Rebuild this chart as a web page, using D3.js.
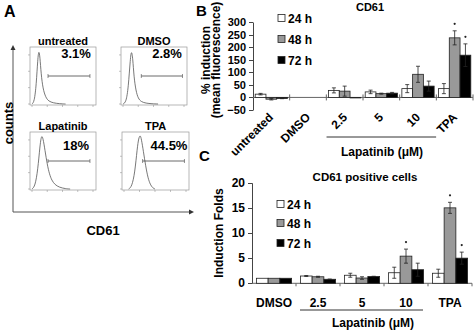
<!DOCTYPE html>
<html>
<head>
<meta charset="utf-8">
<script src="https://cdn.jsdelivr.net/npm/d3@7"></script>
<style>
  body { margin: 0; background: #fff; }
  svg { display: block; font-family: "Liberation Sans", Arial, sans-serif; font-weight: bold; }
  .axis path, .axis line { stroke: #444; }
</style>
</head>
<body>
<div id="chart"></div>
<script>
const width = 474;
const height = 330;

// panel A : flow cytometry histograms (log10 fluorescence, relative count)
const histNames = ['untreated', 'DMSO', 'Lapatinib', 'TPA'];
const histPercents = ['3.1%', '2.8%', '18%', '44.5%'];
const gateStart = [1.05, 1.2, 1.05, 1.2];
const gateEnd = [3.8, 3.9, 3.8, 3.9];
const histUntreated = [[0,0],[0.15,0.04],[0.28,0.35],[0.38,0.85],[0.45,1],[0.52,0.88],[0.6,0.55],[0.72,0.28],[0.9,0.12],[1.1,0.05],[1.4,0.02],[1.8,0.005],[2.2,0]];
const histDMSO = [[0,0],[0.2,0.03],[0.35,0.3],[0.48,0.85],[0.56,1],[0.64,0.85],[0.72,0.5],[0.85,0.24],[1.0,0.1],[1.2,0.04],[1.5,0.015],[1.9,0.004],[2.3,0]];
const histLapatinib = [[0,0],[0.2,0.05],[0.38,0.35],[0.52,0.8],[0.62,1],[0.72,0.95],[0.85,0.72],[1.0,0.45],[1.15,0.27],[1.3,0.16],[1.5,0.08],[1.8,0.03],[2.2,0.005],[2.5,0]];
const histTPA = [[0.3,0],[0.5,0.04],[0.7,0.3],[0.85,0.75],[0.95,0.95],[1.05,1],[1.12,0.93],[1.25,0.7],[1.4,0.42],[1.55,0.2],[1.7,0.08],[1.85,0.02],[2.0,0]];
const histCurves = [histUntreated, histDMSO, histLapatinib, histTPA];

// shared legend
const seriesNames = ['24 h', '48 h', '72 h'];
const seriesFills = ['#fff', '#999', '#000'];

// panel B : % induction (mean fluorescence)
const catsB = ['untreated', 'DMSO', '2.5', '5', '10', 'TPA'];
const b24 = [13, 0, 28, 22, 35, 35];
const b48 = [-7, 0, 25, 15, 92, 237];
const b72 = [-4, 0, -2, 17, 45, 168];
const b24err = [3, 0, 10, 7, 16, 20];
const b48err = [3, 0, 20, 2, 32, 28];
const b72err = [1, 0, 0, 3, 20, 45];
const starsB = [['TPA', 1], ['TPA', 2]];
const ticksB = [-50, 0, 50, 100, 150, 200, 250, 300];

// panel C : CD61 positive cells, induction folds
const catsC = ['DMSO', '2.5', '5', '10', 'TPA'];
const c24 = [1, 1.45, 1.6, 2.1, 2.0];
const c48 = [1, 1.3, 1.05, 5.4, 15.0];
const c72 = [1, 0.8, 1.35, 2.7, 5.0];
const c24err = [0, 0.1, 0.4, 1.1, 0.8];
const c48err = [0, 0.1, 0.25, 1.4, 1.1];
const c72err = [0, 0.05, 0.05, 1.3, 1.2];
const starsC = [['10', 1], ['TPA', 1], ['TPA', 2]];
const ticksC = [0, 5, 10, 15, 20];

const svg = d3.select('#chart')
    .append('svg')
    .attr('width', width)
    .attr('height', height);

svg.append('rect').attr('width', width).attr('height', height).attr('fill', '#fff');

// ---------- bar panel helper ----------
function barPanel(opts) {
  const {cats, values, errs, stars, x, y, ticks, baseY} = opts;
  const g = svg.append('g');
  const xs = d3.scaleBand().domain(d3.range(3)).range([0, x.bandwidth()]);
  const x0 = Math.round(x.range()[0]);

  // y axis (tick groups placed with x/y instead of transforms)
  g.append('g').attr('class', 'axis')
      .attr('transform', `translate(${x0},0)`)
      .call(d3.axisLeft(y).tickValues(ticks).tickSize(4).tickSizeOuter(0).tickPadding(3))
      .call(a => {
        a.selectAll('.tick').attr('transform', null);
        a.selectAll('.tick line')
            .attr('y1', d => Math.round(y(d)) + 0.5)
            .attr('y2', d => Math.round(y(d)) + 0.5);
        a.selectAll('.tick text')
            .attr('y', d => Math.round(y(d)) + 0.5)
            .attr('font-size', opts.tickFont)
            .attr('fill', '#000');
      });

  // horizontal axis line with separator ticks
  g.append('line').attr('x1', x0).attr('x2', x.range()[1])
      .attr('y1', baseY).attr('y2', baseY).attr('stroke', '#666');
  const step = x.step();
  cats.forEach((c, i) => {
    const sx = x0 + step * (i + 1);
    g.append('line').attr('x1', sx).attr('x2', sx).attr('y1', baseY - opts.sepUp).attr('y2', baseY + opts.sepDown)
        .attr('stroke', '#666');
  });

  // bars
  values.forEach((vals, s) => {
    g.selectAll(null).data(cats).enter().append('rect')
        .attr('x', c => x(c) + xs(s))
        .attr('y', (c, i) => y(Math.max(0, vals[i])))
        .attr('width', xs.bandwidth())
        .attr('height', (c, i) => Math.abs(y(vals[i]) - y(0)))
        .attr('fill', seriesFills[s])
        .attr('stroke', '#222').attr('stroke-width', 0.8);
  });

  // error bars
  values.forEach((vals, s) => {
    cats.forEach((c, i) => {
      const e = errs[s][i];
      if (!e) return;
      const cx = x(c) + xs(s) + xs.bandwidth() / 2;
      const eg = g.append('g').attr('stroke', '#222').attr('stroke-width', 0.8);
      eg.append('line').attr('x1', cx).attr('x2', cx).attr('y1', y(vals[i] + e)).attr('y2', y(vals[i] - e));
      [vals[i] + e, vals[i] - e].forEach(v => {
        eg.append('line').attr('x1', cx - 2).attr('x2', cx + 2).attr('y1', y(v)).attr('y2', y(v));
      });
    });
  });

  // asterisks
  stars.forEach(([c, s]) => {
    const i = cats.indexOf(c);
    const cx = x(c) + xs(s) + xs.bandwidth() / 2;
    g.append('circle').attr('cx', cx).attr('cy', y(values[s][i] + errs[s][i]) - 7)
        .attr('r', 1.1).attr('fill', '#222');
  });

  // legend
  seriesNames.forEach((n, s) => {
    const ly = opts.legendY[s];
    g.append('rect').attr('x', opts.legendX).attr('y', ly - 3.5).attr('width', 7).attr('height', 7)
        .attr('fill', seriesFills[s]).attr('stroke', '#222').attr('stroke-width', 0.8);
    g.append('text').attr('x', opts.legendX + 10).attr('y', ly + 4.5)
        .attr('font-size', 12).text(n);
  });
  return g;
}

// ---------- panel B ----------
const xB = d3.scaleBand().domain(catsB).range([253, 473]).paddingInner(0.12).paddingOuter(0.06);
const yB = d3.scaleLinear().domain([-50, 300]).range([110, 22]);
barPanel({
  cats: catsB, values: [b24, b48, b72], errs: [b24err, b48err, b72err], stars: starsB,
  x: xB, y: yB, ticks: ticksB, baseY: yB(0), tickFont: 11, sepUp: 3, sepDown: 3,
  legendX: 278, legendY: [18, 39, 60]
});
catsB.forEach(c => {
  const cx = Math.round(xB(c) + xB.bandwidth() / 2 + 3);
  svg.append('text')
      .attr('x', cx).attr('y', 118)
      .attr('transform', `rotate(-45,${cx},118)`)
      .attr('text-anchor', 'end').attr('font-size', 12).text(c);
});
svg.append('text').attr('x', 196).attr('y', 16).attr('font-size', 15).text('B');
svg.append('text').attr('x', 370).attr('y', 11).attr('text-anchor', 'middle').attr('font-size', 11).text('CD61');
svg.append('text').attr('transform', 'translate(210,60) rotate(-90)')
    .attr('text-anchor', 'middle').attr('font-size', 12).text('% induction');
svg.append('text').attr('transform', 'translate(220,60) rotate(-90)')
    .attr('text-anchor', 'middle').attr('font-size', 12).text('(mean fluorescence)');
svg.append('line').attr('x1', xB('2.5') - 2).attr('x2', xB('10') + xB.bandwidth() + 2)
    .attr('y1', 137).attr('y2', 137).attr('stroke', '#333');
svg.append('text').attr('x', 382).attr('y', 156).attr('text-anchor', 'middle')
    .attr('font-size', 12).text('Lapatinib (\u03bcM)');

// ---------- panel C ----------
const xC = d3.scaleBand().domain(catsC).range([252, 472]).paddingInner(0.2).paddingOuter(0.1);
const yC = d3.scaleLinear().domain([0, 20]).range([283.3, 182.7]);
barPanel({
  cats: catsC, values: [c24, c48, c72], errs: [c24err, c48err, c72err], stars: starsC,
  x: xC, y: yC, ticks: ticksC, baseY: yC(0), tickFont: 12, sepUp: 0, sepDown: 3,
  legendX: 277, legendY: [204, 223, 243]
});
svg.append('text').attr('x', 199).attr('y', 161).attr('font-size', 15).text('C');
svg.append('text').attr('x', 365).attr('y', 181).attr('text-anchor', 'middle')
    .attr('font-size', 11.5).text('CD61 positive cells');
svg.append('text').attr('transform', 'translate(223,233) rotate(-90)')
    .attr('text-anchor', 'middle').attr('font-size', 12).text('Induction Folds');
catsC.forEach(c => {
  svg.append('text').attr('x', xC(c) + xC.bandwidth() / 2).attr('y', 307)
      .attr('text-anchor', 'middle').attr('font-size', 12).text(c);
});
svg.append('line').attr('x1', 300).attr('x2', 423)
    .attr('y1', 310).attr('y2', 310).attr('stroke', '#333');
svg.append('text').attr('x', 373).attr('y', 327).attr('text-anchor', 'middle')
    .attr('font-size', 12).text('Lapatinib (\u03bcM)');

// ---------- panel A ----------
const pa = svg.append('g');
pa.append('text').attr('x', 4).attr('y', 17).attr('font-size', 16).text('A');

// outer axes with arrow heads
pa.append('line').attr('x1', 13).attr('y1', 212).attr('x2', 13).attr('y2', 49).attr('stroke', '#555');
pa.append('line').attr('x1', 13).attr('y1', 212).attr('x2', 190).attr('y2', 212).attr('stroke', '#555');
pa.append('path').attr('d', 'M10.5,50L13,45L15.5,50Z').attr('fill', '#333');
pa.append('path').attr('d', 'M189,209.5L194,212L189,214.5Z').attr('fill', '#333');

pa.append('text').attr('transform', 'translate(13,123) rotate(-90)')
    .attr('text-anchor', 'middle').attr('font-size', 13).text('counts');
pa.append('text').attr('x', 103).attr('y', 235)
    .attr('text-anchor', 'middle').attr('font-size', 13).text('CD61');

const boxes = [
  {x: 30, y: 47, w: 66, h: 58},
  {x: 121, y: 47, w: 66, h: 58},
  {x: 30, y: 132, w: 66, h: 58},
  {x: 122, y: 132, w: 67, h: 58}
];

boxes.forEach((b, i) => {
  const g = pa.append('g');
  const hx = d3.scaleLinear().domain([0, 4]).range([b.x + 2, b.x + b.w - 3]);
  const hy = d3.scaleLinear().domain([0, 1]).range([b.y + b.h - 1, b.y + 3]);

  g.append('rect').attr('x', b.x).attr('y', b.y).attr('width', b.w).attr('height', b.h)
      .attr('fill', 'none').attr('stroke', '#999').attr('stroke-width', 0.7);

  g.append('text').attr('x', b.x + b.w / 2).attr('y', b.y - 2)
      .attr('text-anchor', 'middle').attr('font-size', 11).text(histNames[i]);

  g.append('text').attr('x', b.x + b.w - 20).attr('y', b.y + (i < 2 ? 11 : 18))
      .attr('text-anchor', 'middle').attr('font-size', 13).text(histPercents[i]);

  const line = d3.line().x(d => hx(d[0])).y(d => hy(d[1])).curve(d3.curveBasis);
  g.append('path').datum(histCurves[i]).attr('d', line)
      .attr('fill', 'none').attr('stroke', '#555').attr('stroke-width', 0.8);

  // gate marker
  const gy = b.y + b.h * 0.5;
  g.append('line').attr('x1', hx(gateStart[i])).attr('x2', hx(gateEnd[i]))
      .attr('y1', gy).attr('y2', gy).attr('stroke', '#444').attr('stroke-width', 0.8);
  [gateStart[i], gateEnd[i]].forEach(v => {
    g.append('line').attr('x1', hx(v)).attr('x2', hx(v)).attr('y1', gy - 2).attr('y2', gy + 2)
        .attr('stroke', '#444').attr('stroke-width', 0.6);
  });

  // tiny tick marks on the histogram frames
  d3.range(5).forEach(k => {
    g.append('line').attr('x1', hx(k)).attr('x2', hx(k)).attr('y1', b.y + b.h).attr('y2', b.y + b.h + 2)
        .attr('stroke', '#999').attr('stroke-width', 0.6);
  });
  d3.range(4).forEach(k => {
    const ty = hy(k / 3.3);
    g.append('line').attr('x1', b.x - 2).attr('x2', b.x).attr('y1', ty).attr('y2', ty)
        .attr('stroke', '#999').attr('stroke-width', 0.6);
  });
});
</script>
</body>
</html>
